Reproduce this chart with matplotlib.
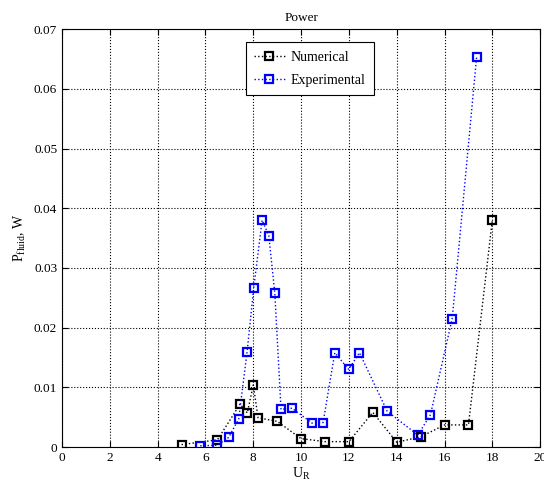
import numpy as np
import matplotlib.pyplot as plt

plt.rcParams['font.family'] = ['Liberation Serif', 'DejaVu Serif']
plt.rcParams['mathtext.fontset'] = 'custom'
plt.rcParams['mathtext.rm'] = 'Liberation Serif'

# numerical results
num_x = [5, 6.5, 7.45, 7.75, 8, 8.2, 9, 10, 11, 12, 13, 14, 15, 16, 17, 18]
num_p = [0.0004, 0.0012, 0.0072, 0.0057, 0.0104, 0.0049, 0.0043, 0.0014,
         0.0009, 0.0009, 0.0058, 0.0008, 0.0017, 0.0037, 0.0037, 0.0381]

# experimental results
exp_x = [5.78, 6.49, 6.97, 7.39, 7.74, 8.02, 8.37, 8.65, 8.9, 9.16, 9.62,
         10.46, 10.92, 11.41, 11.99, 12.44, 13.6, 14.88, 15.41, 16.32, 17.34]
exp_p = [0.0002, 0.0003, 0.0016, 0.0047, 0.0159, 0.0267, 0.0380, 0.0354,
         0.0258, 0.0063, 0.0065, 0.0040, 0.0041, 0.0158, 0.0130, 0.0158,
         0.0060, 0.0020, 0.0054, 0.0215, 0.0653]

fig = plt.figure(figsize=(5.44, 4.91), dpi=100)
ax = fig.add_axes([0.114, 0.0896, 0.879, 0.851])

ax.plot(num_x, num_p, ':s', color='black', mfc='none', mec='black',
        ms=6, mew=1.6, lw=1.0, label='Numerical')
ax.plot(exp_x, exp_p, ':s', color='#0000ff', mfc='none', mec='#0000ff',
        ms=6, mew=1.6, lw=1.0, label='Experimental')

ax.set_xlim(0, 20)
ax.set_ylim(0, 0.07)
ax.set_xticks(np.arange(0, 21, 2))
ax.set_yticks(np.arange(0, 0.071, 0.01))
ax.set_yticklabels(['0', '0.01', '0.02', '0.03', '0.04', '0.05', '0.06', '0.07'])
ax.grid(True, linestyle=':', color='black', linewidth=0.8)
ax.tick_params(direction='in', labelsize=9.5, length=4, top=True, right=True)

ax.set_title('Power', fontsize=9.5, pad=6)
ax.set_xlabel(r'U$_{\rm R}$', fontsize=10, labelpad=1)
ax.set_ylabel(r'P$_{\rm fluid}$, W', fontsize=10, labelpad=4)

leg = ax.legend(loc='upper left', bbox_to_anchor=(0.37, 0.985), fontsize=10,
                fancybox=False, framealpha=1, edgecolor='black',
                handlelength=2.2, handletextpad=0.4, borderpad=0.6,
                labelspacing=0.75)
leg.get_frame().set_linewidth(0.8)

plt.savefig('out.png', dpi=100)
